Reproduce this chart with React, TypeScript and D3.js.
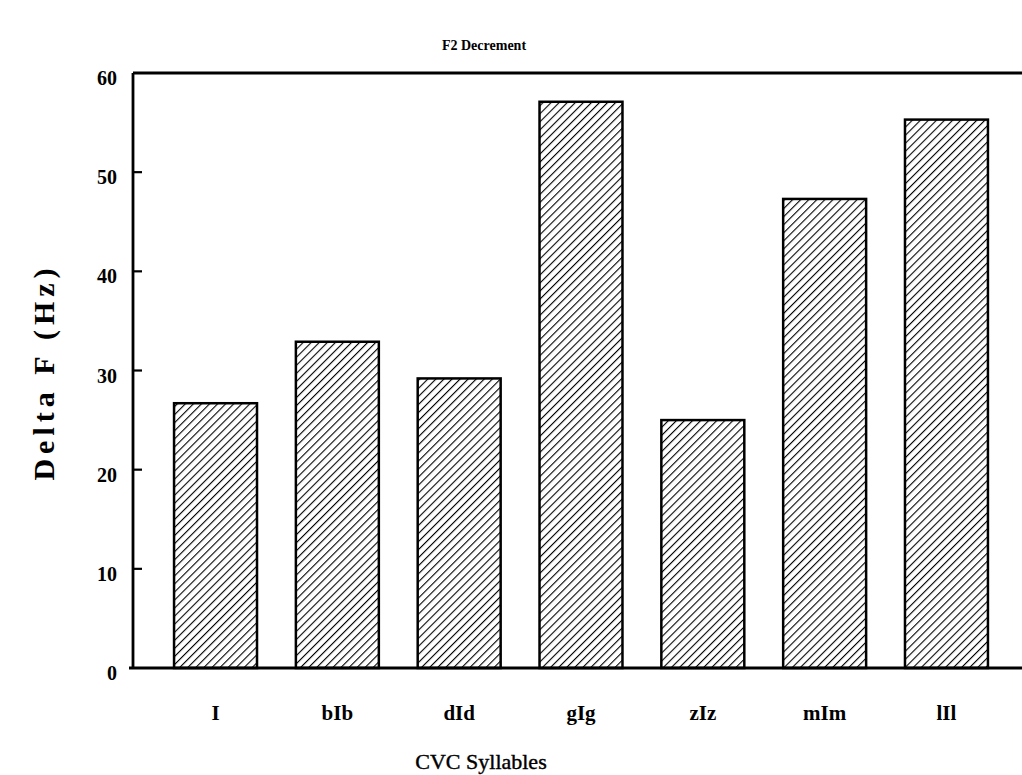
import * as d3 from 'd3';
import React from 'react';

// values
const syllables = ['I', 'bIb', 'dId', 'gIg', 'zIz', 'mIm', 'lIl'];
const deltaF = [26.7, 32.9, 29.2, 57.1, 25.0, 47.3, 55.3];
const yTicks = [0, 10, 20, 30, 40, 50, 60];

const W = 1022;
const H = 775;
const left = 133;
const top = 73;
const bottom = 668;

const serif = '"Liberation Serif", "Times New Roman", serif';

const App: React.FC = () => {
  const x = d3
    .scaleBand<string>()
    .domain(syllables)
    .range([left, 1029])
    .paddingInner(0.319)
    .paddingOuter(0.337);

  const y = d3.scaleLinear().domain([0, 60]).range([bottom, top]);

  return (
    <svg
      width={W}
      height={H}
      viewBox={`0 0 ${W} ${H}`}
      style={{ position: 'absolute', left: 0, top: 0, background: '#fff' }}
    >
      <defs>
        <pattern
          id="hatch"
          width={5.7}
          height={5.7}
          patternUnits="userSpaceOnUse"
          patternTransform="rotate(45)"
        >
          <rect width={5.7} height={5.7} fill="#fff" />
          <line x1={0} y1={0} x2={0} y2={5.7} stroke="#000" strokeWidth={2.2} />
        </pattern>
      </defs>

      {/* title */}
      <text
        x={484}
        y={50}
        textAnchor="middle"
        fontFamily={serif}
        fontWeight="bold"
        fontSize={14}
      >
        F2 Decrement
      </text>

      {/* bars */}
      {syllables.map((s, i) => (
        <rect
          key={s}
          x={x(s)}
          y={y(deltaF[i])}
          width={x.bandwidth()}
          height={y(0) - y(deltaF[i])}
          fill="url(#hatch)"
          stroke="#000"
          strokeWidth={2.5}
        />
      ))}

      {/* frame */}
      <line x1={left} y1={top} x2={left} y2={bottom} stroke="#000" strokeWidth={2.8} />
      <line x1={left} y1={top} x2={W} y2={top} stroke="#000" strokeWidth={2.8} />
      <line x1={left - 4} y1={bottom} x2={W} y2={bottom} stroke="#000" strokeWidth={2.8} />

      {/* y ticks */}
      {yTicks.map(t => (
        <g key={t}>
          {t > 0 && t < 60 && (
            <line x1={left} x2={left + 9} y1={y(t)} y2={y(t)} stroke="#000" strokeWidth={2.2} />
          )}
          <text
            x={117}
            y={y(t) + 12}
            textAnchor="end"
            fontFamily={serif}
            fontWeight="bold"
            fontSize={20}
          >
            {t}
          </text>
        </g>
      ))}

      {/* category labels */}
      {syllables.map(s => (
        <text
          key={s}
          x={(x(s) ?? 0) + x.bandwidth() / 2}
          y={720}
          textAnchor="middle"
          fontFamily={serif}
          fontWeight="bold"
          fontSize={21}
        >
          {s}
        </text>
      ))}

      {/* axis titles */}
      <text
        x={481}
        y={769}
        textAnchor="middle"
        fontFamily={serif}
        fontSize={22}
        stroke="#000"
        strokeWidth={0.4}
      >
        CVC Syllables
      </text>
      <text
        transform="translate(54,372) rotate(-90)"
        textAnchor="middle"
        fontFamily={serif}
        fontWeight="bold"
        fontSize={30}
        letterSpacing={5}
        style={{ whiteSpace: 'pre' }}
      >
        {'Delta F (Hz)'}
      </text>
    </svg>
  );
};

export default App;
